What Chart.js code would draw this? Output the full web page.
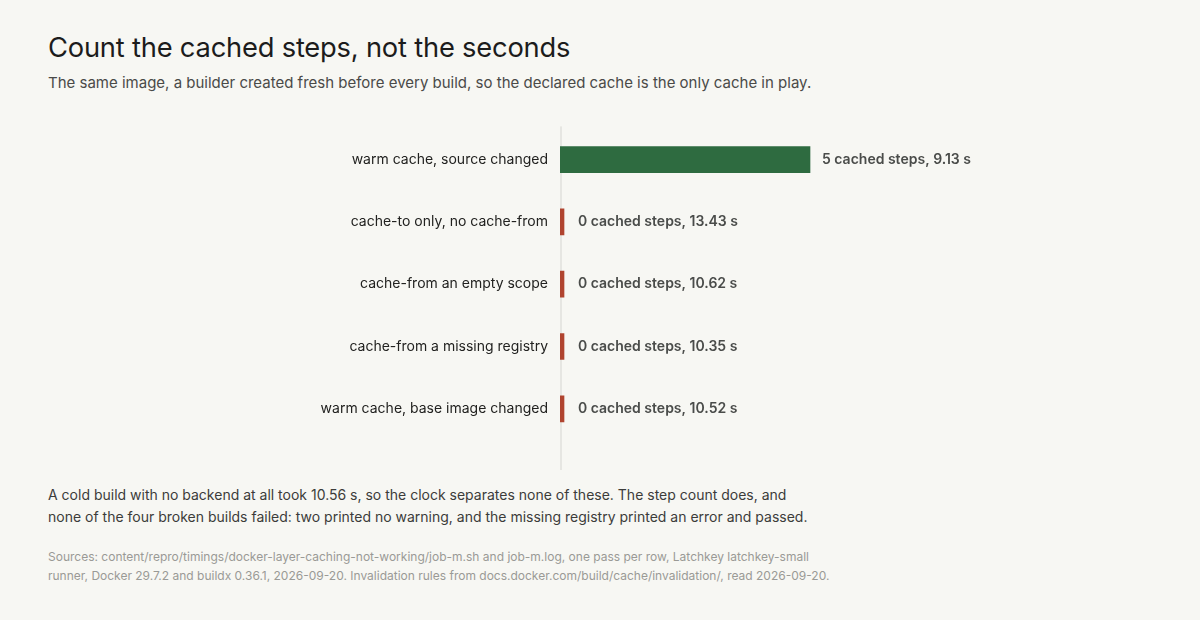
<!DOCTYPE html>
<html>
<head>
<meta charset="utf-8">
<script src="https://cdn.jsdelivr.net/npm/chart.js@4"></script>
<style>
  body { margin: 0; background: #f7f7f3; font-family: Inter, "Noto Sans", sans-serif; width: 1200px; height: 620px; position: relative; overflow: hidden; }
  h1 { position: absolute; left: 48px; top: 31px; margin: 0; font-size: 27.3px; font-weight: 400; color: #1c1c1c; letter-spacing: -0.2px; }
  .sub { position: absolute; left: 48px; top: 73px; margin: 0; font-size: 15px; color: #4a4a48; }
  #wrap { position: absolute; left: 0; top: 108px; width: 1200px; height: 372px; }
  .note { position: absolute; left: 48px; top: 484px; margin: 0; font-size: 14px; line-height: 22px; color: #3c3c3a; }
  .src { position: absolute; left: 48px; top: 547px; margin: 0; font-size: 12px; line-height: 19px; color: #9a9a96; }
</style>
</head>
<body>
<h1>Count the cached steps, not the seconds</h1>
<p class="sub">The same image, a builder created fresh before every build, so the declared cache is the only cache in play.</p>
<div id="wrap"><canvas id="chart"></canvas></div>
<p class="note">A cold build with no backend at all took 10.56 s, so the clock separates none of these. The step count does, and<br>none of the four broken builds failed: two printed no warning, and the missing registry printed an error and passed.</p>
<p class="src">Sources: content/repro/timings/docker-layer-caching-not-working/job-m.sh and job-m.log, one pass per row, Latchkey latchkey-small<br>runner, Docker 29.7.2 and buildx 0.36.1, 2026-09-20. Invalidation rules from docs.docker.com/build/cache/invalidation/, read 2026-09-20.</p>
<script>
var runs = ['warm cache, source changed', 'cache-to only, no cache-from', 'cache-from an empty scope', 'cache-from a missing registry', 'warm cache, base image changed'];
var cachedSteps = [5, 0, 0, 0, 0];
var seconds = [9.13, 13.43, 10.62, 10.35, 10.52];

var green = '#2e6b40';
var red = '#b0442f';

// zero line drawn a bit past the plot area, like the reference
var zeroLine = {
    id: 'zeroLine',
    beforeDatasetsDraw: function (chart) {
        var c = chart.ctx, x = chart.scales.x.getPixelForValue(0);
        c.save();
        c.fillStyle = '#e6e6e2';
        c.fillRect(x, chart.chartArea.top - 2, 2, chart.chartArea.bottom - chart.chartArea.top + 32);
        c.restore();
    }
};

// value labels to the right of each bar
var valueLabels = {
    id: 'valueLabels',
    afterDatasetsDraw: function (chart) {
        var c = chart.ctx;
        var meta = chart.getDatasetMeta(0);
        c.save();
        c.font = '600 14px Inter, "Noto Sans", sans-serif';
        c.fillStyle = '#4a4c4a';
        c.textBaseline = 'middle';
        meta.data.forEach(function (bar, i) {
            var gap = cachedSteps[i] > 0 ? 12 : 14;
            c.fillText(cachedSteps[i] + ' cached steps, ' + seconds[i].toFixed(2) + ' s', bar.x + gap, bar.y);
        });
        c.restore();
    }
};

new Chart(document.getElementById('chart').getContext('2d'), {
    type: 'bar',
    data: {
        labels: runs,
        datasets: [{
            data: cachedSteps,
            backgroundColor: cachedSteps.map(function (v) { return v > 0 ? green : red; }),
            barThickness: 26,
            minBarLength: 4,
            borderWidth: 0
        }]
    },
    options: {
        indexAxis: 'y',
        responsive: true,
        maintainAspectRatio: false,
        animation: false,
        layout: { padding: { top: 8, bottom: 40, left: 0, right: 140 } },
        plugins: { legend: { display: false }, tooltip: { enabled: false } },
        scales: {
            x: { min: 0, max: 10, display: false },
            y: {
                afterFit: function (scale) { scale.width = 560; },
                grid: { display: false, drawTicks: false },
                border: { display: false },
                ticks: {
                    padding: 12,
                    color: '#222220',
                    font: { family: 'Inter, "Noto Sans", sans-serif', size: 14 }
                }
            }
        }
    },
    plugins: [zeroLine, valueLabels]
});
</script>
</body>
</html>
